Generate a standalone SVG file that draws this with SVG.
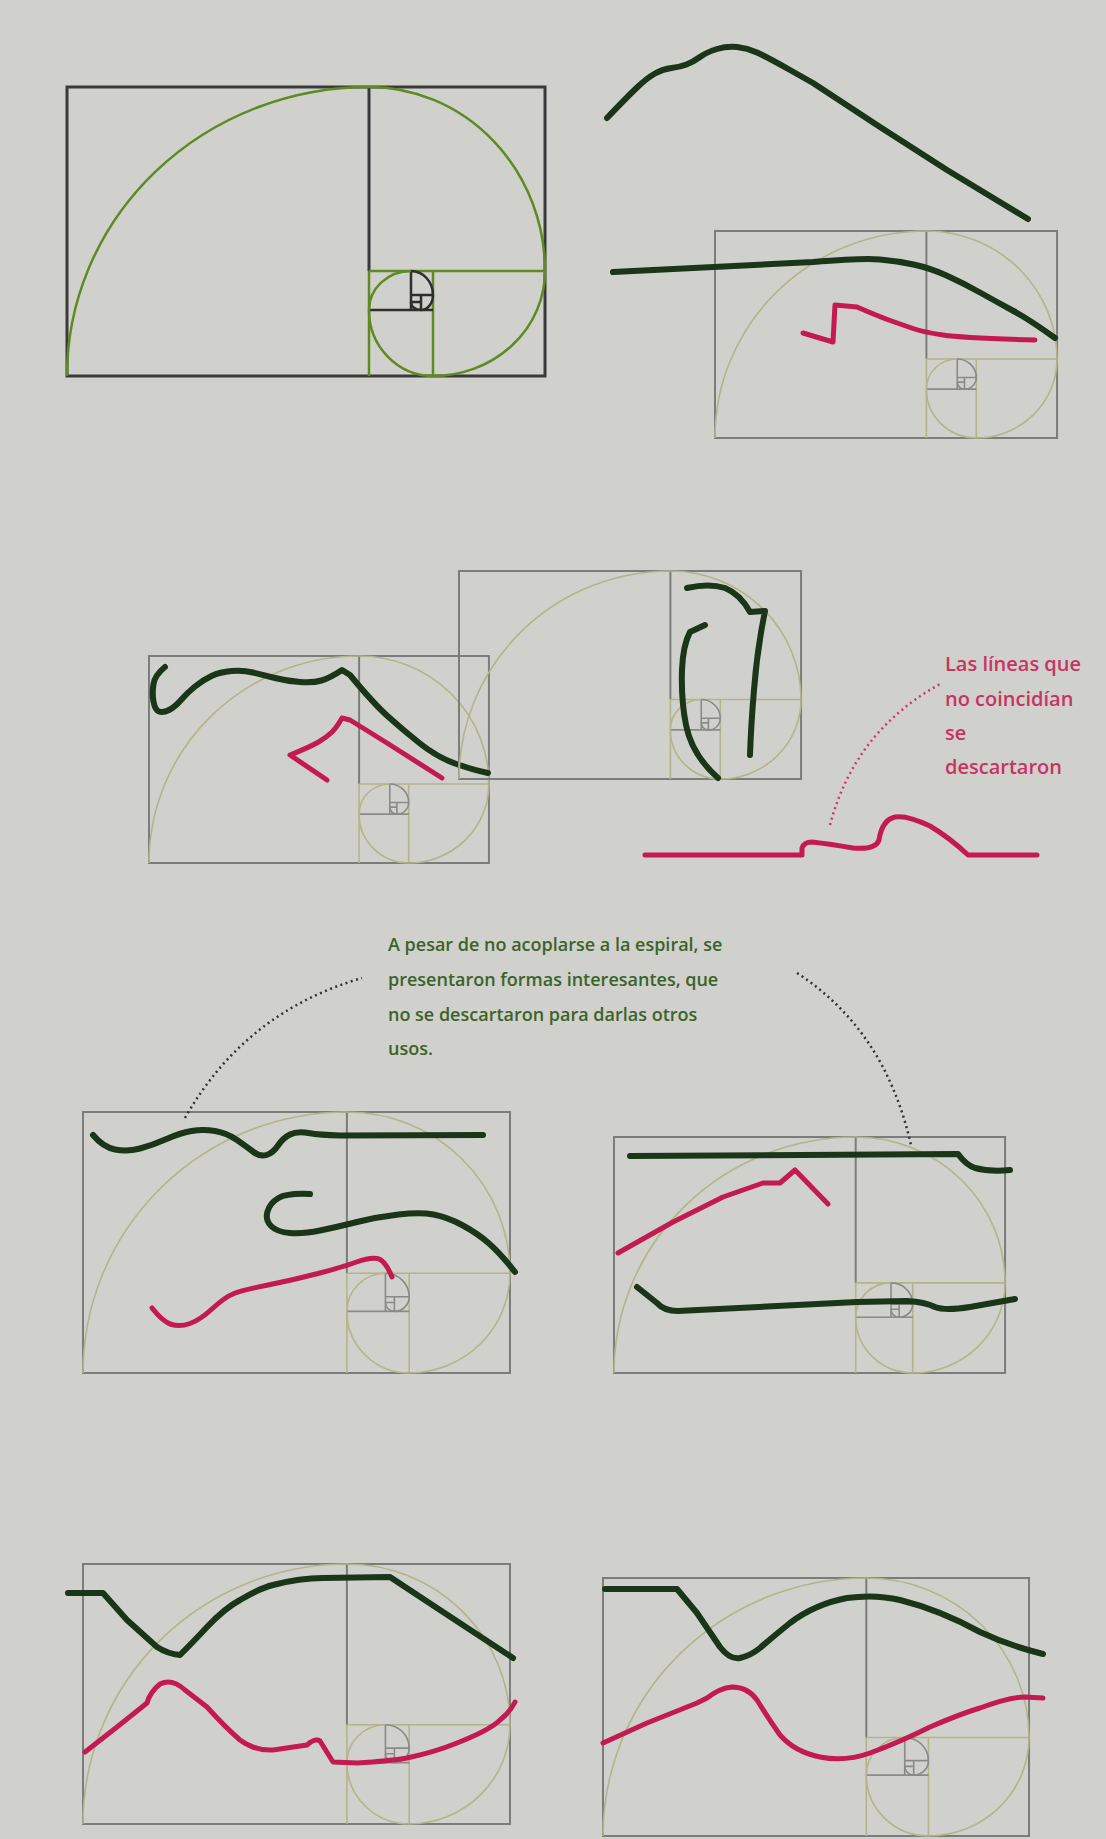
<svg xmlns="http://www.w3.org/2000/svg" xmlns:xlink="http://www.w3.org/1999/xlink" width="1106" height="1839" viewBox="0 0 1106 1839">
<style>
  .bg { fill: #d0d0cd; }
  .dk-rect { fill: none; stroke: #3a3a3a; stroke-width: 3; }
  .dk-sp { fill: none; stroke: #5f8a22; stroke-width: 2.5; }
  .dk-in { fill: none; stroke: #2e2e2e; stroke-width: 2.5; }
  .lt-rect { fill: none; stroke: #7c7c7a; stroke-width: 2; vector-effect: non-scaling-stroke; }
  .lt-sp { fill: none; stroke: #b4b48c; stroke-width: 1.6; vector-effect: non-scaling-stroke; }
  .lt-in { fill: none; stroke: #8a8a88; stroke-width: 1.6; vector-effect: non-scaling-stroke; }
  .g { fill: none; stroke: #1a3518; stroke-width: 6; stroke-linecap: round; stroke-linejoin: round; }
  .r { fill: none; stroke: #c41a52; stroke-width: 5; stroke-linecap: round; stroke-linejoin: round; }
  .dotr { fill: none; stroke: #cf3a66; stroke-width: 2.5; stroke-dasharray: 2 3.5; }
  .dotk { fill: none; stroke: #333333; stroke-width: 2.5; stroke-dasharray: 2 3.5; }
  .tr { font-family: "Open Sans", "Liberation Sans", sans-serif; font-weight: 600; font-size: 20px; fill: #c83462; }
  .tg { font-family: "Open Sans", "Liberation Sans", sans-serif; font-weight: 600; font-size: 18px; fill: #3c6328; }
</style>
<defs>
  <g id="spiral-light">
    <rect class="lt-rect" x="0" y="0" width="1.618" height="1"/>
    <path class="lt-rect" d="M1,0 V0.618"/>
    <path class="lt-sp" d="M1,0.618 V1 M1,0.618 H1.618 M1.236,0.618 V1"/>
    <path class="lt-in" d="M1,0.764 H1.236 M1.146,0.618 V0.764 M1.146,0.708 H1.236 M1.180,0.708 V0.764 M1.146,0.730 H1.180"/>
    <path class="lt-sp" d="M0,1 A1,1 0 0 1 1,0 A0.618,0.618 0 0 1 1.618,0.618 A0.382,0.382 0 0 1 1.236,1 A0.236,0.236 0 0 1 1,0.764 A0.146,0.146 0 0 1 1.146,0.618"/>
    <path class="lt-in" d="M1.146,0.618 A0.090,0.090 0 0 1 1.236,0.708 A0.056,0.056 0 0 1 1.180,0.764 A0.034,0.034 0 0 1 1.146,0.730"/>
  </g>
</defs>

<rect class="bg" x="0" y="0" width="1106" height="1839"/>

<!-- Panel 1: reference golden spiral -->
<g id="panel1">
  <rect class="dk-rect" x="67" y="87" width="478" height="289"/>
  <path class="dk-rect" d="M369,87 V271"/>
  <path class="dk-sp" d="M369,271 V376 M369,271 H545 M433,271 V376"/>
  <path class="dk-in" d="M369,310 H433 M411,271 V310 M411,295 H433 M421,295 V310 M411,302 H421"/>
  <path class="dk-sp" d="M67,376 A302,289 0 0 1 369,87 A176,184 0 0 1 545,271 A112,105 0 0 1 433,376 A64,66 0 0 1 369,310 A42,39 0 0 1 411,271"/>
  <path class="dk-in" d="M411,271 A22,24 0 0 1 433,295 A12,15 0 0 1 421,310 A10,8 0 0 1 411,302"/>
</g>

<!-- Panel 2 -->
<g id="panel2">
  <use xlink:href="#spiral-light" href="#spiral-light" transform="translate(715,231) scale(211.4,207)"/>
  <path class="g" d="M607,118 Q627,97 637,87.5 Q647,78 655,73.5 Q663,69 671.5,68 Q680,67 686.5,64.5 Q693,62 700,57 Q707,52 717,49 Q727,46 737,47 Q747,48 757,52.5 Q767,57 790,70 L813,83 L880,127 L947,170 L1028,219"/>
  <path class="g" d="M613,272 L813,262 Q863,258 880,259.5 Q897,261 913.5,264.5 Q930,268 946.5,275.5 Q963,283 980,292.5 Q997,302 1013.5,311 Q1030,320 1055,338"/>
  <path class="r" d="M803,333 L833,342 L835,305 L857,307 Q880,317 891.5,321 Q903,325 913,328.5 Q923,332 943,335 Q963,338 1035,340"/>
</g>

<!-- Panel 3 -->
<g id="panel3">
  <use xlink:href="#spiral-light" href="#spiral-light" transform="translate(149,656) scale(210.1,207)"/>
  <path class="g" d="M165,667 Q155,675 153.5,684 Q152,693 153.5,701.5 Q155,710 159,711.5 Q163,713 169,710 Q175,707 181,700 Q187,693 195,686.5 Q203,680 211.5,676 Q220,672 231.5,671 Q243,670 253,672.5 Q263,675 275,678 Q287,681 300,682 Q313,683 321.5,680.5 Q330,678 342,670 L350,675 Q373,703 388,716.5 Q403,730 420,743.5 Q437,757 455,763.5 Q473,770 488,773"/>
  <path class="r" d="M327,780 L290,755 Q310,747 318.5,742 Q327,737 332,732 Q337,727 342,718 L350,720 L387,743 L442,778"/>
</g>

<!-- Panel 4 -->
<g id="panel4">
  <use xlink:href="#spiral-light" href="#spiral-light" transform="translate(459,571) scale(211.4,208)"/>
  <path class="g" d="M705,625 L690,632 Q683,645 682,670 Q681,700 686,725 Q692,755 718,778"/>
  <path class="g" d="M687,588 Q709,583 725,588 Q740,594 750,612 L765,611 Q757,650 754,690 Q751,725 750,755"/>
</g>

<!-- Discarded line -->
<g id="discarded">
  <path class="r" d="M645,855 L802,855 L802,848 Q804,842 812,842 Q830,844 853,848 Q876,850 879,840 Q882,820 895,817 Q907,815 930,826 Q950,838 968,855 L1037,855"/>
  <text class="tr" x="945" y="671">Las líneas que</text>
  <text class="tr" x="945" y="705.5">no coincidían</text>
  <text class="tr" x="945" y="740">se</text>
  <text class="tr" x="945" y="774">descartaron</text>
</g>

<!-- Note -->
<g id="note">
  <text class="tg" x="388" y="951">A pesar de no acoplarse a la espiral, se</text>
  <text class="tg" x="388" y="986">presentaron formas interesantes, que</text>
  <text class="tg" x="388" y="1021">no se descartaron para darlas otros</text>
  <text class="tg" x="388" y="1055">usos.</text>
</g>

<!-- Panel 5 -->
<g id="panel5">
  <use xlink:href="#spiral-light" href="#spiral-light" transform="translate(83,1112) scale(263.9,261)"/>
  <path class="g" d="M93,1135 Q103,1147 115,1149.5 Q127,1152 140,1148.5 Q153,1145 166.5,1139 Q180,1133 191.5,1131 Q203,1129 215,1131 Q227,1133 237,1140 Q247,1147 253.5,1152 Q260,1157 266.5,1155 Q273,1153 278,1145.5 Q283,1138 290,1134.5 Q297,1131 308.5,1133 Q320,1135 340,1135.5 L483,1135"/>
  <path class="g" d="M310,1194 Q287,1193 278.5,1198 Q270,1203 267.5,1211.5 Q265,1220 271,1226 Q277,1232 290,1233 Q303,1234 320,1230.5 Q337,1227 357,1222 Q377,1217 398.5,1214.5 Q420,1212 433.5,1214.5 Q447,1217 462,1225 Q477,1233 488.5,1243 Q500,1253 515,1272"/>
  <path class="r" d="M152,1308 Q163,1322 171.5,1324.5 Q180,1327 190,1323.5 Q200,1320 212.5,1308.5 Q225,1297 234,1293.5 Q243,1290 268,1285 Q293,1280 318,1273.5 Q343,1267 356.5,1262 Q370,1257 377.5,1258.5 Q385,1260 392,1277"/>
</g>

<!-- Panel 6 -->
<g id="panel6">
  <use xlink:href="#spiral-light" href="#spiral-light" transform="translate(614,1137) scale(241.7,236)"/>
  <path class="g" d="M630,1156 L958,1154 Q966,1165 975,1168 Q990,1172 1010,1170"/>
  <path class="r" d="M618,1253 L673,1222 L723,1197 L763,1183 L780,1183 L795,1170 L828,1204"/>
  <path class="g" d="M637,1287 L657,1303 Q664,1311 678,1311 L857,1302 L907,1301 Q925,1302 935,1307 Q945,1311 970,1307 L1015,1299"/>
</g>

<!-- Panel 7 -->
<g id="panel7">
  <use xlink:href="#spiral-light" href="#spiral-light" transform="translate(83,1564) scale(263.9,260)"/>
  <path class="g" d="M68,1593 L103,1593 L127,1620 L157,1647 Q168,1654 180,1655 Q195,1640 207,1627 Q225,1608 240,1600 Q260,1588 273,1585 Q300,1578 323,1578 L390,1577 L440,1610 L513,1658"/>
  <path class="r" d="M85,1752 L117,1727 L147,1703 Q150,1692 160,1684 Q172,1678 185,1690 L207,1707 Q225,1727 240,1740 Q255,1751 273,1750 L307,1745 Q315,1738 320,1741 L333,1762 L357,1763 Q390,1761 407,1758 Q435,1752 457,1743 Q490,1730 500,1720 Q510,1712 515,1702"/>
</g>

<!-- Panel 8 -->
<g id="panel8">
  <use xlink:href="#spiral-light" href="#spiral-light" transform="translate(603,1578) scale(263.3,258)"/>
  <path class="g" d="M605,1589 L677,1589 L697,1613 L720,1647 Q730,1660 740,1658 Q750,1656 760,1648 Q775,1635 790,1623 Q815,1604 847,1598 Q875,1594 900,1600 Q940,1610 980,1632 Q1010,1646 1043,1654"/>
  <path class="r" d="M603,1743 L647,1723 L697,1703 L707,1698 Q720,1688 732,1687 Q748,1687 757,1700 Q768,1718 780,1735 Q795,1752 820,1757 Q845,1762 870,1753 Q900,1742 930,1727 Q960,1714 980,1708 Q1010,1697 1025,1697 L1043,1698"/>
</g>

<!-- Connectors (dotted leader lines) -->
<g id="connectors">
  <path class="dotr" d="M830,825 Q855,730 942,683"/>
  <path class="dotk" d="M185,1118 Q245,1012 362,978"/>
  <path class="dotk" d="M797,973 Q885,1030 911,1145"/>
</g>
</svg>
